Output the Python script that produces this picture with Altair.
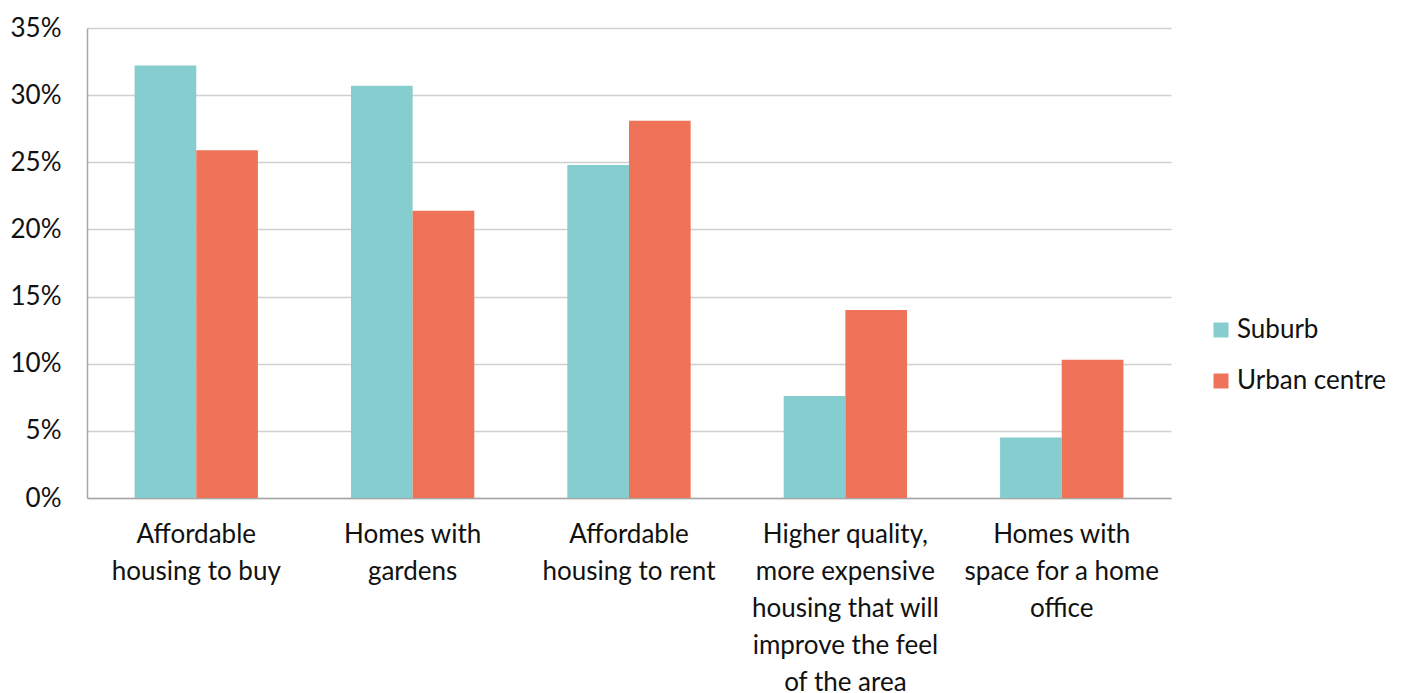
import altair as alt
import pandas as pd

categories = [
    "Affordable housing to buy",
    "Homes with gardens",
    "Affordable housing to rent",
    "Higher quality, more expensive housing that will improve the feel of the area",
    "Homes with space for a home office",
]
label_lines = [
    ["Affordable", "housing to buy"],
    ["Homes with", "gardens"],
    ["Affordable", "housing to rent"],
    ["Higher quality,", "more expensive", "housing that will", "improve the feel", "of the area"],
    ["Homes with", "space for a home", "office"],
]
series = ["Suburb", "Urban centre"]
suburb = [32.2, 30.7, 24.8, 7.6, 4.5]
urban = [25.9, 21.4, 28.1, 14.0, 10.3]
colors = ["#86CDD0", "#EE7358"]

rows = []
for i, c in enumerate(categories):
    rows.append({"category": c, "series": "Suburb", "value": suburb[i] / 100})
    rows.append({"category": c, "series": "Urban centre", "value": urban[i] / 100})
df = pd.DataFrame(rows)

# label expression mapping category -> array of lines
expr_parts = []
for c, lines in zip(categories, label_lines):
    arr = "[" + ",".join("'" + l + "'" for l in lines) + "]"
    expr_parts.append(f"datum.value == '{c}' ? {arr}")
label_expr = " : ".join(expr_parts) + " : datum.value"

FONT = "Lato"
FS = 26

chart = alt.Chart(df).mark_bar().encode(
    x=alt.X(
        "category:N",
        sort=categories,
        scale=alt.Scale(paddingInner=0.43, paddingOuter=0.22),
        axis=alt.Axis(
            title=None,
            labelAngle=0,
            labelExpr=label_expr,
            labelFontSize=FS,
            labelFont=FONT,
            labelColor="#111111",
            labelLineHeight=37,
            labelPadding=23,
            labelBaseline="top",
            ticks=False,
            domainColor="#a6a6a6",
            domainWidth=1.5,
            labelLimit=400,
        ),
    ),
    xOffset=alt.XOffset("series:N", sort=series),
    y=alt.Y(
        "value:Q",
        scale=alt.Scale(domain=[0, 0.35]),
        axis=alt.Axis(
            title=None,
            format=".0%",
            values=[0, 0.05, 0.10, 0.15, 0.20, 0.25, 0.30, 0.35],
            labelFontSize=FS,
            labelFont=FONT,
            labelColor="#111111",
            labelPadding=26,
            ticks=False,
            domainColor="#a6a6a6",
            domainWidth=1.5,
            gridColor="#d0d0d0",
            gridWidth=1.5,
        ),
    ),
    color=alt.Color(
        "series:N",
        sort=series,
        scale=alt.Scale(domain=series, range=colors),
        legend=alt.Legend(
            title=None,
            orient="none",
            legendX=1121,
            legendY=289,
            symbolType="square",
            symbolSize=225,
            symbolStrokeWidth=0,
            labelFontSize=FS,
            labelFont=FONT,
            labelColor="#111111",
            rowPadding=25,
            labelOffset=3,
        ),
    ),
).properties(
    width=1084,
    height=470,
    padding={"left": 2, "top": 7, "right": 5, "bottom": 5},
).configure_view(stroke=None)

chart.save("out.html", embed_options={"renderer": "svg", "actions": False})
